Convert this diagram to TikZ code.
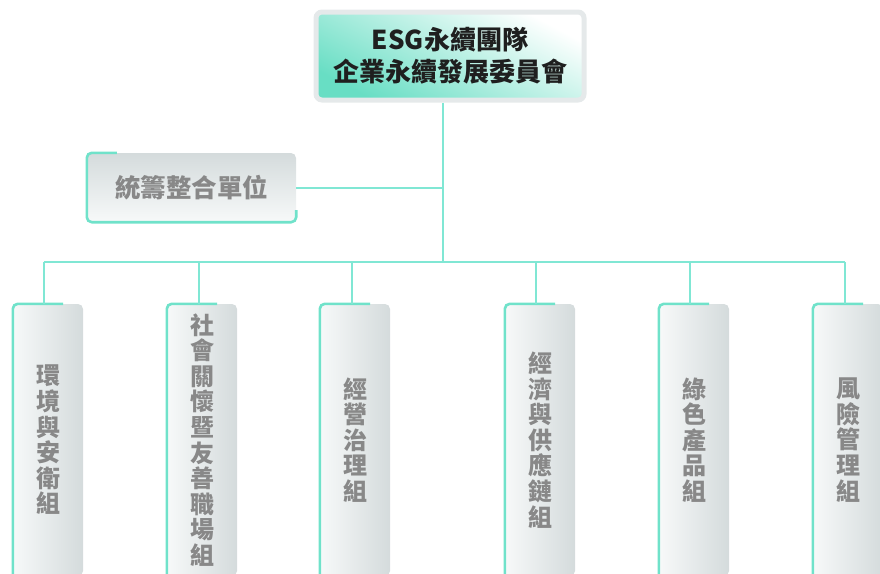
\documentclass[tikz,border=0pt]{standalone}
\usepackage{fontspec}
\newfontfamily\cjkfont{Noto Sans CJK TC}
\usetikzlibrary{positioning}
\newcommand\tightlines{\lineskiplimit=-20pt\relax}

\definecolor{lineteal}{RGB}{128,231,212}
\definecolor{edgeteal}{RGB}{112,226,202}
\definecolor{fillteal}{RGB}{104,222,196}
\definecolor{boxgray}{RGB}{212,219,220}
\definecolor{boxlight}{RGB}{247,249,249}
\definecolor{framegray}{RGB}{229,233,234}
\definecolor{txtgray}{RGB}{136,136,136}

\tikzset{
  link/.style={draw=lineteal, line width=2pt},
  rim/.style={draw=edgeteal, line width=2.6pt, rounded corners=5pt},
  headbox/.style={rounded corners=6pt, draw=framegray, line width=5pt,
    top color=white, bottom color=fillteal, shading angle=-28,
    minimum width=268pt, minimum height=88pt, align=center,
    font=\cjkfont\bfseries\fontsize{26}{32}\selectfont\tightlines, text=black!88},
  unitbox/.style={rounded corners=5pt, top color=boxgray, bottom color=boxlight,
    minimum width=209pt, minimum height=69pt,
    font=\cjkfont\bfseries\fontsize{25.5}{28}\selectfont, text=txtgray},
  groupbox/.style={rounded corners=5pt, left color=boxlight, right color=boxgray,
    minimum width=70pt, minimum height=272pt, inner sep=0pt, align=center,
    font=\cjkfont\bfseries\fontsize{24}{25.6}\selectfont\tightlines, text=txtgray}
}

\begin{document}
\begin{tikzpicture}[x=1pt,y=1pt,yscale=-1]
\useasboundingbox (0,0) rectangle (880,573);

% Top box
\node[headbox] (esg) at (450,56) {ESG永續團隊\\企業永續發展委員會};

% Side unit
\node[unitbox] (unit) at (191.5,187.5) {統籌整合單位};
\draw[rim] ([xshift=30pt]unit.north west) -- (unit.north west) -- (unit.south west) -- (unit.south east) -- ([yshift=-12pt]unit.south east);

% Groups
\node[groupbox] (g1) at (48,440)  {環\\境\\與\\安\\衛\\組};
\node[groupbox] (g2) at (202,440) {社\\會\\關\\懷\\暨\\友\\善\\職\\場\\組};
\node[groupbox] (g3) at (355,440) {經\\營\\治\\理\\組};
\node[groupbox] (g4) at (540,440) {經\\濟\\與\\供\\應\\鏈\\組};
\node[groupbox] (g5) at (694,440) {綠\\色\\產\\品\\組};
\node[groupbox] (g6) at (848,440) {風\\險\\管\\理\\組};

\foreach \g in {g1,g2,g3,g4,g5,g6}
  \draw[rim] (\g.south west) -- (\g.north west) -- ([xshift=-20pt]\g.north east);

% Bus and trunk
\coordinate (t) at (443,262);
\coordinate (j1) at (44,262);
\coordinate (j2) at (199,262);
\coordinate (j3) at (352,262);
\coordinate (j4) at (536,262);
\coordinate (j5) at (690,262);
\coordinate (j6) at (845,262);

\draw[link] (t |- esg.south) -- (t);
\draw[link] (unit.east) -- (unit.east -| t);
\draw[link] (j1) -- (j6);
\foreach \j/\g in {j1/g1,j2/g2,j3/g3,j4/g4,j5/g5,j6/g6}
  \draw[link] (\j) -- (\j |- \g.north);

\end{tikzpicture}
\end{document}
